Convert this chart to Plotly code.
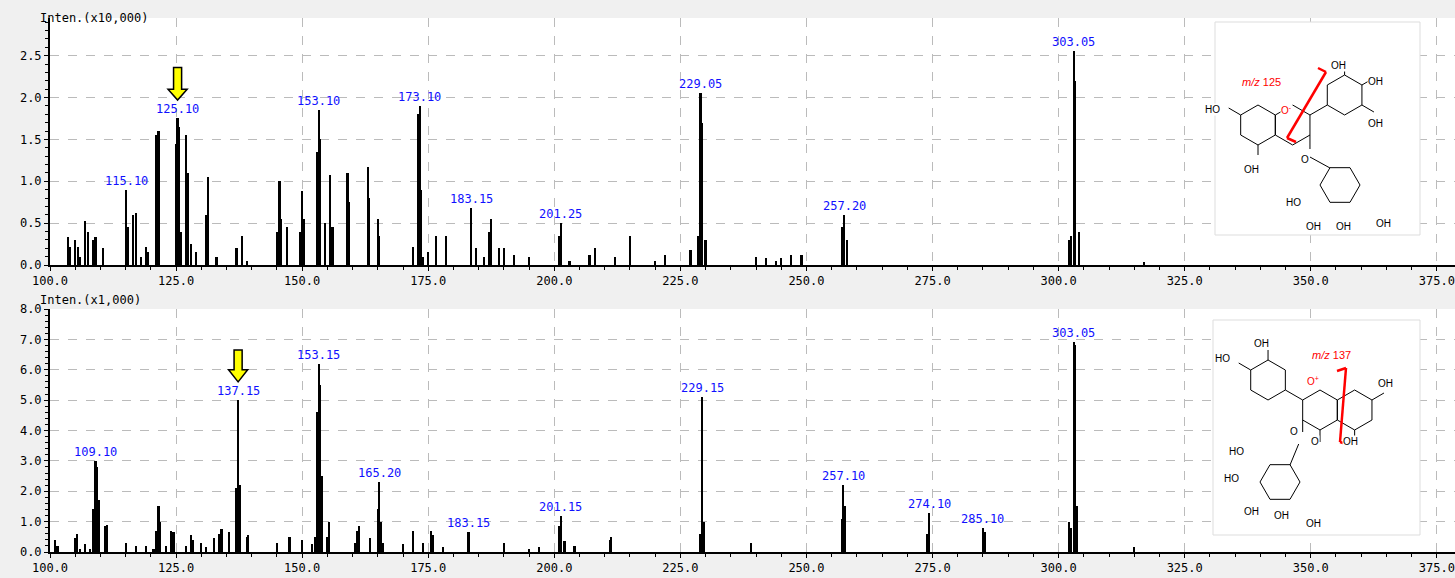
import plotly.graph_objects as go
import math

top_mz = [103.5,104,105,105.5,106,107,107.5,108.5,109,110.5,115,115.5,116.5,117,118,119,119.5,121,121.5,125,125.3,125.6,126,127,127.3,128,129,131,131.3,133,137,138,139,145,145.5,145.8,147,149.5,150,150.3,153,153.3,153.6,154.5,155.5,156,159,159.3,163,163.3,165,165.3,172,173,173.3,173.6,174,175,176.5,178.5,183.5,184.5,186,187,187.5,189,190,192,195,201,201.3,203,207,208,212,215,220,222,227,228.5,229,229.3,230,240,242,244,245,247,249,257,257.5,258,302,302.5,303,303.3,304,317]
top_int = [0.33,0.22,0.3,0.22,0.1,0.52,0.4,0.3,0.33,0.2,0.9,0.45,0.6,0.62,0.1,0.22,0.15,1.55,1.6,1.45,1.75,1.65,0.4,1.55,1.1,0.25,0.15,0.6,1.05,0.1,0.2,0.35,0.05,0.4,1.0,0.55,0.45,0.4,0.88,0.55,1.35,1.85,1.5,0.5,1.08,0.45,1.1,0.75,1.17,0.8,0.55,0.35,0.22,1.8,1.9,0.9,0.1,0.15,0.35,0.35,0.68,0.2,0.1,0.4,0.55,0.2,0.2,0.12,0.1,0.35,0.5,0.05,0.12,0.2,0.1,0.35,0.05,0.12,0.18,0.35,2.05,1.7,0.3,0.1,0.08,0.05,0.08,0.12,0.12,0.45,0.6,0.3,0.3,0.35,2.55,2.2,0.4,0.03]
top_labels = ["115.10","125.10","153.10","173.10","183.15","201.25","229.05","257.20","303.05"]
top_label_mz = [115.1,125.3,153.3,173.3,183.5,201.3,229.0,257.5,303.0]
top_label_int = [0.9,1.75,1.85,1.9,0.68,0.5,2.05,0.6,2.55]

bot_mz = [101,101.5,105,105.3,106,107,108,108.5,109,109.3,109.6,111,111.3,115,117,119,120.5,121,121.5,121.8,123,124,124.5,127,128,128.3,130,131,132.5,133.5,134,135.5,137,137.3,137.7,139,139.3,145,147.5,150,152,152.5,153,153.3,153.6,154,155,155.3,160.5,161,161.3,163.5,165,165.3,165.6,166,170,172,174,175.5,176,178,183,190,195,197,201,201.3,202,204,211,211.3,229,229.3,229.6,239,257,257.3,257.6,274,274.3,285,285.3,302,302.5,303,303.3,303.6,315]
bot_int = [0.4,0.2,0.45,0.6,0.1,0.25,0.1,1.4,3.0,2.8,1.7,0.85,0.9,0.3,0.2,0.2,0.1,0.7,1.5,1.0,0.2,0.7,0.65,0.2,0.55,0.4,0.3,0.15,0.45,0.6,0.75,0.65,2.1,5.0,2.2,0.5,0.55,0.3,0.5,0.4,0.25,0.5,4.6,6.2,5.5,2.5,0.5,1.0,0.3,0.7,0.85,0.45,1.4,2.3,1.0,0.3,0.25,0.7,0.3,0.7,0.55,0.15,0.65,0.3,0.1,0.15,0.85,1.2,0.35,0.2,0.4,0.5,0.6,5.1,1.0,0.3,1.1,2.2,1.5,0.6,1.3,0.8,0.65,1.0,0.8,6.9,6.8,1.5,0.15]
bot_labels = ["109.10","137.15","153.15","165.20","183.15","201.15","229.15","257.10","274.10","285.10","303.05"]
bot_label_mz = [109.0,137.3,153.3,165.3,183.0,201.3,229.3,257.3,274.3,285.0,303.0]
bot_label_int = [3.0,5.0,6.2,2.3,0.65,1.2,5.1,2.2,1.3,0.8,6.9]

W, H = 1455, 578
fig = go.Figure()
fig.add_trace(go.Bar(x=top_mz, y=top_int, width=0.45, marker=dict(color="black", line=dict(width=0)), xaxis="x", yaxis="y"))
fig.add_trace(go.Bar(x=bot_mz, y=bot_int, width=0.45, marker=dict(color="black", line=dict(width=0)), xaxis="x2", yaxis="y2"))

mono = "DejaVu Sans Mono"
ann = []
for t, xm, yi in zip(top_labels, top_label_mz, top_label_int):
    ann.append(dict(x=xm, y=yi, xref="x", yref="y", text=t, showarrow=False, yanchor="bottom", font=dict(family=mono, size=12, color="#1010ff")))
for t, xm, yi in zip(bot_labels, bot_label_mz, bot_label_int):
    ann.append(dict(x=xm, y=yi, xref="x2", yref="y2", text=t, showarrow=False, yanchor="bottom", font=dict(family=mono, size=12, color="#1010ff")))
ann.append(dict(x=38/W, y=1-9/H, xref="paper", yref="paper", text="Inten.(x10,000)", showarrow=False, xanchor="left", font=dict(family=mono, size=12, color="black")))
ann.append(dict(x=38/W, y=1-300/H, xref="paper", yref="paper", text="Inten.(x1,000)", showarrow=False, xanchor="left", font=dict(family=mono, size=12, color="black")))

shapes = []
def arrow(xc, ytip, ytop, xr, yr, hw, sw, hh):
    p = f"M {xc-sw} {ytop} L {xc+sw} {ytop} L {xc+sw} {ytip+hh} L {xc+hw} {ytip+hh} L {xc} {ytip} L {xc-hw} {ytip+hh} L {xc-sw} {ytip+hh} Z"
    shapes.append(dict(type="path", path=p, xref=xr, yref=yr, fillcolor="#ffff00", line=dict(color="black", width=1.5)))
arrow(125.3, 1.97, 2.36, "x", "y", 1.9, 0.8, 0.13)
arrow(137.3, 5.6, 6.65, "x2", "y2", 1.9, 0.8, 0.4)

def px(x, y):
    return x / W, 1 - y / H
def line(x0, y0, x1, y1, color="black", w=1):
    a, b = px(x0, y0); c, d = px(x1, y1)
    shapes.append(dict(type="line", x0=a, y0=b, x1=c, y1=d, xref="paper", yref="paper", line=dict(color=color, width=w)))
def hexring(cx, cy, r, rot=90):
    pts = [(cx + r*math.cos(math.radians(rot+60*i)), cy + r*math.sin(math.radians(rot+60*i))) for i in range(6)]
    for i in range(6):
        line(*pts[i], *pts[(i+1) % 6])
    return pts
def txt(x, y, t, color="black", size=10):
    a, b = px(x, y)
    ann.append(dict(x=a, y=b, xref="paper", yref="paper", text=t, showarrow=False, bgcolor="white", borderpad=0,
                    font=dict(family="Liberation Sans", size=size, color=color)))
def box(x0, y0, x1, y1):
    a, b = px(x0, y0); c, d = px(x1, y1)
    shapes.append(dict(type="rect", x0=a, y0=b, x1=c, y1=d, xref="paper", yref="paper", fillcolor="white", line=dict(color="#dddddd", width=1)))

r = 20
s = r * math.sqrt(3) / 2
# top structure
box(1215, 22, 1420, 235)
ax0, ay0 = 1258, 125
hexring(ax0, ay0, r); cx0 = ax0 + 2*s; hexring(cx0, ay0, r)
v = (cx0 + s, ay0 - r/2)
e = (v[0] + s, v[1] - r/2)
line(*v, *e)
bx0, by0 = e[0] + s, e[1] - r/2
hexring(bx0, by0, r)
v2 = (cx0 + s, ay0 + r/2)
line(*v2, v2[0], v2[1] + 14)
hexring(1340, 185, 20, 0)
line(v2[0], v2[1] + 22, 1330, 168)
line(ax0 - s, ay0 - r/2, ax0 - s - 12, ay0 - r/2 - 7); txt(ax0 - s - 20, ay0 - r/2 - 12, "HO")
line(ax0, ay0 + r, ax0, ay0 + r + 10); txt(ax0 + 2, ay0 + r + 18, "OH")
line(bx0, by0 - r, bx0, by0 - r - 10); txt(bx0 + 2, by0 - r - 16, "OH")
line(bx0 + s, by0 - r/2, bx0 + s + 12, by0 - r/2 - 7); txt(bx0 + s + 22, by0 - r/2 - 10, "OH")
line(bx0 + s, by0 + r/2, bx0 + s + 12, by0 + r/2 + 7); txt(bx0 + s + 22, by0 + r/2 + 12, "OH")
txt(cx0, ay0 - r - 2, "O<sup>-</sup>", "red"); txt(v2[0], v2[1] + 18, "O")
txt(1302, 203, "HO"); txt(1322, 226, "OH"); txt(1352, 226, "OH"); txt(1392, 224, "OH")
txt(1282, 75, "<i>m/z</i> 125", "red", 11)
line(1326, 72, 1287, 138, "red", 2.5); line(1326, 72, 1318, 68, "red", 2.5); line(1287, 138, 1296, 142, "red", 2.5)

# bottom structure
box(1213, 320, 1420, 535)
cx1, cy1 = 1320, 410
hexring(cx1, cy1, r); ax1 = cx1 + 2*s; hexring(ax1, cy1, r)
v = (cx1 - s, cy1 - r/2); e = (v[0] - s, v[1] - r/2)
line(*v, *e)
bx1, by1 = e[0] - s, e[1] - r/2
hexring(bx1, by1, r)
line(bx1 - s, by1 - r/2, bx1 - s - 12, by1 - r/2 - 7); txt(bx1 - s - 20, by1 - r/2 - 12, "HO")
line(bx1, by1 - r, bx1, by1 - r - 10); txt(bx1 + 2, by1 - r - 17, "OH")
txt(cx1, cy1 - r - 2, "O<sup>+</sup>", "red")
line(ax1 + s, cy1 - r/2, ax1 + s + 12, cy1 - r/2 - 7); txt(ax1 + s + 22, cy1 - r/2 - 10, "OH")
line(ax1, cy1 + r, ax1, cy1 + r + 10); txt(ax1 + 4, cy1 + r + 18, "OH")
line(cx1, cy1 + r, cx1, cy1 + r + 12); txt(cx1, cy1 + r + 18, "O")
vv = (cx1 - s, cy1 + r/2)
line(*vv, vv[0], vv[1] + 12); txt(vv[0] - 4, vv[1] + 18, "O")
hexring(1280, 482, 20, 0)
line(vv[0] - 4, vv[1] + 24, 1290, 465)
txt(1245, 458, "HO"); txt(1240, 485, "HO"); txt(1260, 518, "OH"); txt(1290, 522, "OH"); txt(1322, 530, "OH")
txt(1352, 355, "<i>m/z</i> 137", "red", 11)
line(1346, 368, 1340, 442, "red", 2.5); line(1346, 368, 1337, 371, "red", 2.5); line(1340, 442, 1349, 445, "red", 2.5)

ax = dict(range=[100, 378.6], dtick=25, tick0=100, tickformat=".1f", showgrid=True, gridcolor="#bbbbbb", griddash="dash",
          showline=True, linecolor="black", linewidth=2, ticks="outside", ticklen=4, tickcolor="black", automargin=False,
          minor=dict(dtick=5, ticks="outside", ticklen=3, tickcolor="black"), zeroline=False,
          tickfont=dict(family=mono, size=12, color="black"))
ay = dict(tickformat=".1f", showgrid=True, gridcolor="#bbbbbb", griddash="dash", showline=True, linecolor="black", linewidth=2,
          ticks="outside", ticklen=4, tickcolor="black", zeroline=False, automargin=False, tickfont=dict(family=mono, size=12, color="black"))
fig.update_layout(
    width=W, height=H, margin=dict(l=0, r=0, t=0, b=0, autoexpand=False), showlegend=False, bargap=0,
    paper_bgcolor="#f0f0f0", plot_bgcolor="white",
    xaxis=dict(ax, domain=[50/W, 1], anchor="y"),
    yaxis=dict(ay, domain=[1-265/H, 1-18/H], range=[0, 2.95], dtick=0.5, minor=dict(dtick=0.1, ticks="outside", ticklen=3, tickcolor="black"), anchor="x"),
    xaxis2=dict(ax, domain=[50/W, 1], anchor="y2"),
    yaxis2=dict(ay, domain=[1-552/H, 1-309/H], range=[0, 8.0], dtick=1.0, minor=dict(dtick=0.2, ticks="outside", ticklen=3, tickcolor="black"), anchor="x2"),
    annotations=ann, shapes=shapes,
)
fig.write_html("out.html", config={"displayModeBar": False}, post_script="document.body.style.margin='0';")
